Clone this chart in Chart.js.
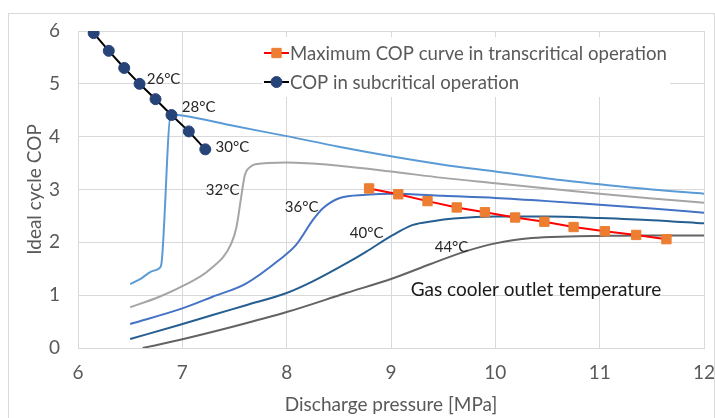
<!DOCTYPE html>
<html>
<head>
<meta charset="utf-8">
<script src="https://cdn.jsdelivr.net/npm/chart.js@4"></script>
<style>
  html, body { margin: 0; padding: 0; background: #fff; }
  #wrap { width: 715px; height: 418px; }
</style>
</head>
<body>
<div id="wrap"><canvas id="c" width="715" height="418"></canvas></div>
<script>
// Axis ranges
const pressureRange = [6, 12];
const copRange = [0, 6];

// COP in subcritical operation (condensing, 26-30 °C)
const subPressure = [6.15, 6.295, 6.443, 6.59, 6.743, 6.896, 7.062, 7.22];
const subCOP      = [5.96, 5.625, 5.30, 5.00, 4.71, 4.41, 4.10, 3.76];

// Maximum COP curve in transcritical operation
const maxPressure = [8.79, 9.07, 9.35, 9.63, 9.90, 10.19, 10.47, 10.75, 11.05, 11.35, 11.64];
const maxCOP      = [3.02, 2.91, 2.78, 2.66, 2.57, 2.47, 2.39, 2.29, 2.21, 2.14, 2.06];

// COP vs discharge pressure at each gas cooler outlet temperature
const p28 = [6.50, 6.60, 6.70, 6.78, 6.80, 6.89, 7.00, 7.50, 8.00, 8.50, 9.00, 9.50, 10.00, 10.50, 11.00, 11.50, 12.00];
const c28 = [1.21, 1.31, 1.445, 1.51, 1.60, 4.42, 4.40, 4.20, 4.01, 3.81, 3.63, 3.47, 3.34, 3.21, 3.10, 3.00, 2.92];

const p32 = [6.50, 6.78, 7.00, 7.26, 7.47, 7.52, 7.565, 7.60, 7.645, 7.70, 8.00, 8.50, 9.00, 9.50, 10.00, 10.50, 11.00, 11.50, 12.00];
const c32 = [0.77, 0.97, 1.17, 1.48, 1.98, 2.30, 2.87, 3.28, 3.42, 3.48, 3.51, 3.45, 3.34, 3.22, 3.12, 3.02, 2.92, 2.83, 2.75];

const p36 = [6.50, 7.00, 7.29, 7.61, 7.93, 8.09, 8.25, 8.35, 8.51, 8.76, 9.02, 9.50, 10.00, 10.50, 11.00, 11.50, 12.00];
const c36 = [0.455, 0.75, 0.97, 1.22, 1.67, 1.95, 2.42, 2.65, 2.84, 2.90, 2.92, 2.88, 2.84, 2.78, 2.71, 2.64, 2.56];

const p40 = [6.50, 6.97, 7.29, 7.61, 8.00, 8.25, 8.57, 8.76, 9.02, 9.21, 9.40, 9.60, 10.00, 10.50, 11.00, 11.50, 12.00];
const c40 = [0.17, 0.435, 0.625, 0.81, 1.04, 1.26, 1.60, 1.82, 2.14, 2.33, 2.40, 2.45, 2.49, 2.49, 2.46, 2.42, 2.36];

const p44 = [6.62, 6.97, 7.50, 8.00, 8.57, 9.02, 9.38, 9.70, 10.00, 10.35, 10.70, 11.00, 11.50, 12.00];
const c44 = [0.00, 0.15, 0.41, 0.68, 1.04, 1.32, 1.59, 1.82, 1.98, 2.08, 2.11, 2.12, 2.13, 2.13];

// Temperature tags, anchored in data units
const tagText = ['26°C', '28°C', '30°C', '32°C', '36°C', '40°C', '44°C'];
const tagP    = [6.82, 7.156, 7.48, 7.386, 8.144, 8.767, 9.58];
const tagCOP  = [5.09, 4.56, 3.80, 2.99, 2.67, 2.18, 1.91];
const noteText = 'Gas cooler outlet temperature';
const noteAt = [10.39, 1.10];

const FONT = 'Lato, "Noto Sans", sans-serif';
const pts = (xs, ys) => xs.map((v, i) => ({ x: v, y: ys[i] }));

const curve = (label, xs, ys, color) => ({
  label, data: pts(xs, ys), showLine: true, borderColor: color, borderWidth: 2,
  pointRadius: 0, cubicInterpolationMode: 'monotone', fill: false, inLegend: false
});

const datasets = [
  {
    label: 'Maximum COP curve in transcritical operation',
    data: pts(maxPressure, maxCOP), showLine: true,
    borderColor: '#FF0000', borderWidth: 2,
    pointStyle: 'rect', pointRadius: 6.6,
    pointBackgroundColor: '#ED7D31', pointBorderColor: '#ED7D31', pointBorderWidth: 1,
    inLegend: true
  },
  {
    label: 'COP in subcritical operation',
    data: pts(subPressure, subCOP), showLine: true,
    borderColor: '#000000', borderWidth: 2,
    pointStyle: 'circle', pointRadius: 5.5,
    pointBackgroundColor: '#264478', pointBorderColor: '#264478', pointBorderWidth: 1,
    inLegend: true
  },
  curve('28°C', p28, c28, '#5B9BD5'),
  curve('32°C', p32, c32, '#A5A5A5'),
  curve('36°C', p36, c36, '#4472C4'),
  curve('40°C', p40, c40, '#255E91'),
  curve('44°C', p44, c44, '#636363')
];

const overlay = {
  id: 'overlay',
  beforeDraw(chart) {
    const ctx = chart.ctx;
    ctx.save();
    ctx.fillStyle = '#fff';
    ctx.fillRect(0, 0, chart.width, chart.height);
    ctx.strokeStyle = '#D9D9D9';
    ctx.lineWidth = 1;
    ctx.strokeRect(8.5, 13.5, 706, 420);
    ctx.restore();
  },
  afterDatasetsDraw(chart) {
    const { ctx, chartArea: area, scales: { x, y } } = chart;
    ctx.save();
    ctx.textAlign = 'center';
    ctx.textBaseline = 'middle';

    ctx.fillStyle = '#262626';
    ctx.font = '15px ' + FONT;
    tagText.forEach((t, i) => ctx.fillText(t, x.getPixelForValue(tagP[i]), y.getPixelForValue(tagCOP[i])));

    ctx.font = '19px ' + FONT;
    ctx.fillStyle = '#1a1a1a';
    ctx.fillText(noteText, x.getPixelForValue(noteAt[0]), y.getPixelForValue(noteAt[1]));

    // legend box inside the plot
    const lx = area.left + 184, ly = area.top + 6;
    ctx.fillStyle = '#fff';
    ctx.fillRect(lx, ly, 408, 60);
    const rows = chart.data.datasets.filter(d => d.inLegend);
    ctx.textAlign = 'left';
    ctx.font = '18.6px ' + FONT;
    rows.forEach((d, i) => {
      const cy = ly + 16 + i * 29;
      const sx = lx + 2, ex = lx + 27, mx = (sx + ex) / 2;
      ctx.strokeStyle = d.borderColor;
      ctx.lineWidth = d.borderWidth;
      ctx.beginPath(); ctx.moveTo(sx, cy); ctx.lineTo(ex, cy); ctx.stroke();
      ctx.fillStyle = d.pointBackgroundColor;
      ctx.strokeStyle = d.pointBorderColor;
      ctx.lineWidth = 1;
      Chart.helpers.drawPoint(ctx, { pointStyle: d.pointStyle, radius: d.pointRadius, borderWidth: 1 }, mx, cy);
      ctx.fillStyle = '#595959';
      ctx.fillText(d.label, ex + 1, cy + 1);
    });
    ctx.restore();
  }
};

new Chart(document.getElementById('c'), {
  type: 'scatter',
  data: { datasets },
  options: {
    responsive: false,
    animation: false,
    devicePixelRatio: 1,
    layout: { padding: { left: 0, top: 31, right: 11, bottom: 0 } },
    plugins: { legend: { display: false }, tooltip: { enabled: false } },
    scales: {
      x: {
        type: 'linear', min: pressureRange[0], max: pressureRange[1],
        afterFit(s) { s.height = 70; s.paddingLeft = 0; s.paddingRight = 0; },
        ticks: { stepSize: 1, padding: 13, color: '#595959', font: { family: FONT, size: 19 } },
        grid: { color: '#D9D9D9', drawTicks: false },
        border: { color: '#D9D9D9' },
        title: { display: true, text: 'Discharge pressure [MPa]', color: '#595959',
                 font: { family: FONT, size: 19 }, padding: { top: 0, bottom: 2 } }
      },
      y: {
        type: 'linear', min: copRange[0], max: copRange[1],
        afterFit(s) { s.width = 78; s.paddingTop = 0; s.paddingBottom = 0; },
        ticks: { stepSize: 1, padding: 18, color: '#595959', font: { family: FONT, size: 19 } },
        grid: { color: '#D9D9D9', drawTicks: false },
        border: { color: '#D9D9D9' },
        title: { display: true, text: 'Ideal cycle COP', color: '#595959',
                 font: { family: FONT, size: 19 }, padding: { top: 23, bottom: 0 } }
      }
    }
  },
  plugins: [overlay]
});
</script>
</body>
</html>
